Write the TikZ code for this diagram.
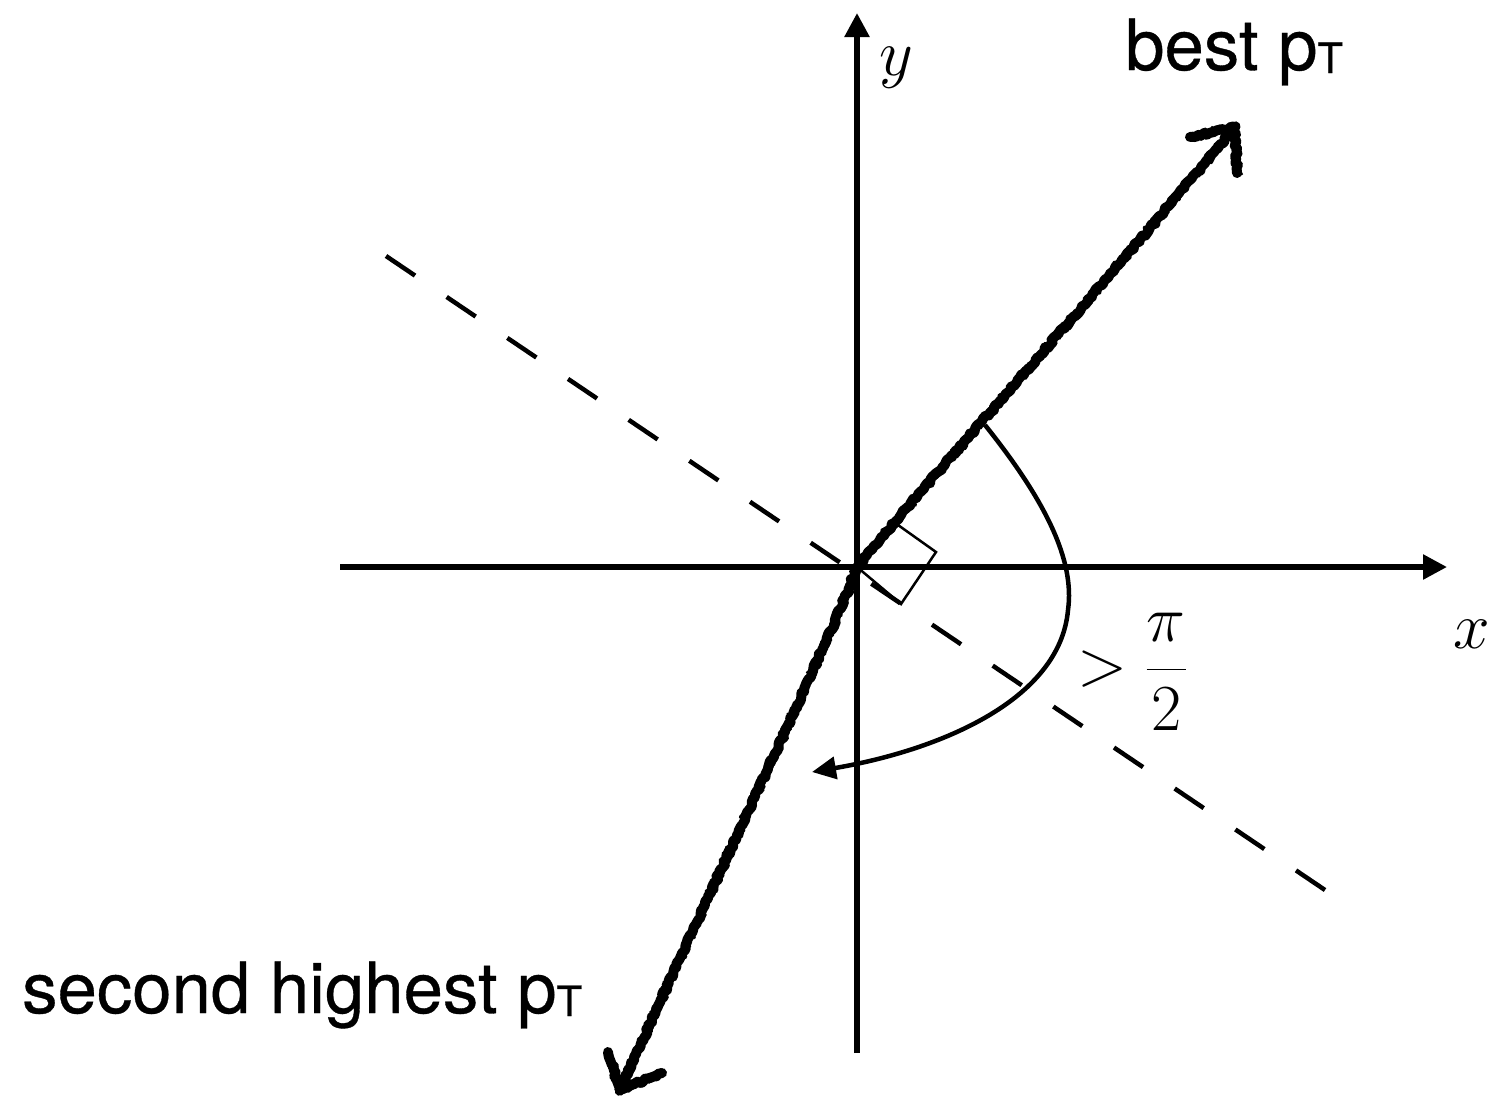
\RequirePackage{fix-cm}
\documentclass[tikz,border=0pt]{standalone}
\usepackage{fontspec}
\newfontfamily\lblfont{TeX Gyre Heros}[FakeBold=0.5]
\usetikzlibrary{arrows.meta,decorations.pathmorphing}
\begin{document}
\begin{tikzpicture}[x=1bp,y=-1bp,
  axisline/.style={line width=5.5bp,-{Triangle[length=24bp,width=24bp]}},
  sketch/.style={line width=10bp, line cap=round, line join=round, decorate,
    decoration={random steps,segment length=3bp,amplitude=1.5bp}},
  sketchthin/.style={line width=3.5bp, line cap=round, line join=round, decorate,
    decoration={random steps,segment length=2bp,amplitude=4.5bp}},
  dashline/.style={line width=4.5bp, dash pattern=on 35bp off 38.2bp},
  arcline/.style={line width=4.5bp,-{Triangle[length=24bp,width=22bp]}},
  sqline/.style={line width=2.5bp, line join=miter},
  sanslabel/.style={font=\lblfont\fontsize{71}{84}\selectfont, anchor=base west, inner sep=0pt},
  mathlabel/.style={font=\fontsize{66}{80}\selectfont, inner sep=0pt}
]
\useasboundingbox (0,0) rectangle (1493,1095);
% coordinates
\coordinate (O) at (857,567);
\coordinate (xs) at (340,567);
\coordinate (xe) at (1447,567);
\coordinate (ys) at (857,1053);
\coordinate (ye) at (857,13);
\coordinate (d1) at (386,256);
\coordinate (d2) at (1325,890);
\coordinate (sq1) at (898,525);
\coordinate (sq2) at (936,552);
\coordinate (sq3) at (901,604);
\coordinate (a1) at (985,425);
\coordinate (a2) at (1068,610);
\coordinate (a3) at (812,772);
\coordinate (bt) at (1235,127);
\coordinate (bb1) at (1190,137);
\coordinate (bb2) at (1237,173);
\coordinate (st) at (620,1090);
\coordinate (sb1) at (608,1052);
\coordinate (sb2) at (662,1073);
% dashed perpendicular
\draw[dashline] (d1) -- (d2);
% axes
\draw[axisline] (xs) -- (xe);
\draw[axisline] (ys) -- (ye);
% right-angle marker
\draw[sqline] (O) -- (sq1) -- (sq2) -- (sq3) -- cycle;
% angle arc
\draw[arcline] (a1) .. controls (1045,500) and (1075,560) .. (a2)
  .. controls (1060,700) and (940,750) .. (a3);
% sketchy vectors
\foreach \s in {sketch,sketchthin}{
  \draw[\s] (O) .. controls (920,490) and (1100,290) .. (bt);
  \draw[\s] (bb1) -- (bt) -- (bb2);
  \draw[\s] (O) .. controls (835,630) and (710,890) .. (st);
  \draw[\s] (sb1) -- (st) -- (sb2);
}
% labels
\node[mathlabel, anchor=base] (ylab) at (896,75) {$y$};
\node[mathlabel, anchor=base] (xlab) at (1472,648) {$x$};
\node[mathlabel] (frac) at (1132,672) {$>\displaystyle\frac{\pi}{2}$};
\node[sanslabel] (best) at (1125,70) {best p\raisebox{-3bp}{\fontsize{42}{50}\selectfont T}};
\node[sanslabel] (second) at (22,1013) {second highest p\raisebox{-3bp}{\fontsize{42}{50}\selectfont T}};
\end{tikzpicture}
\end{document}
